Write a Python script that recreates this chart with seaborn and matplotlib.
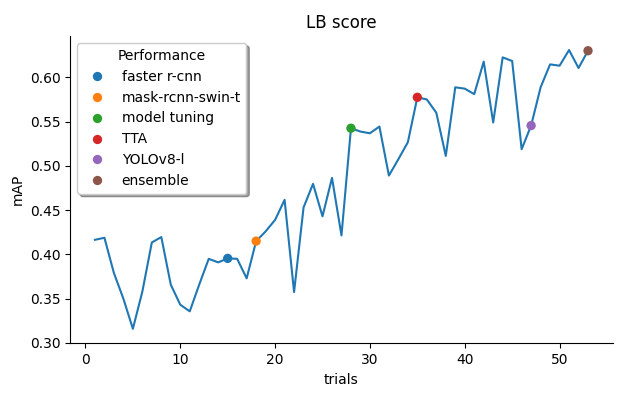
import numpy as np
import pandas as pd
import matplotlib
matplotlib.use("Agg")
import matplotlib.pyplot as plt
import seaborn as sns

# LB score per submission
trials = list(range(1, 54))
lb_map = [0.4165, 0.4188, 0.379, 0.350, 0.316, 0.358, 0.4135, 0.4196, 0.3658, 0.3432,
          0.3357, 0.366, 0.395, 0.391, 0.3955, 0.395, 0.373, 0.415, 0.426, 0.439,
          0.4616, 0.3575, 0.453, 0.4797, 0.443, 0.4864, 0.4214, 0.5425, 0.5387, 0.5368,
          0.5444, 0.489, 0.5075, 0.5267, 0.5774, 0.575, 0.560, 0.5112, 0.5887, 0.5872,
          0.581, 0.6177, 0.549, 0.6225, 0.6184, 0.5188, 0.5455, 0.5887, 0.6146, 0.6131,
          0.6308, 0.6105, 0.630]

# milestones
milestone_trials = [15, 18, 28, 35, 47, 53]
milestone_names = ["faster r-cnn", "mask-rcnn-swin-t", "model tuning", "TTA", "YOLOv8-l", "ensemble"]

df = pd.DataFrame({"trials": trials, "mAP": lb_map})
marks = df[df["trials"].isin(milestone_trials)].copy()
marks["Performance"] = milestone_names

fig, ax = plt.subplots(figsize=(6.22, 3.97), dpi=100)
sns.lineplot(data=df, x="trials", y="mAP", ax=ax)
sns.scatterplot(data=marks, x="trials", y="mAP", hue="Performance", s=45,
                linewidth=0, zorder=3, ax=ax)
ax.legend(title="Performance", loc="upper left", shadow=True)
ax.set_title("LB score")
ax.set_ylim(0.2995, 0.6465)
sns.despine(ax=ax)
plt.subplots_adjust(left=0.113, right=0.985, bottom=0.135, top=0.909)
plt.savefig("out.png", dpi=100)
